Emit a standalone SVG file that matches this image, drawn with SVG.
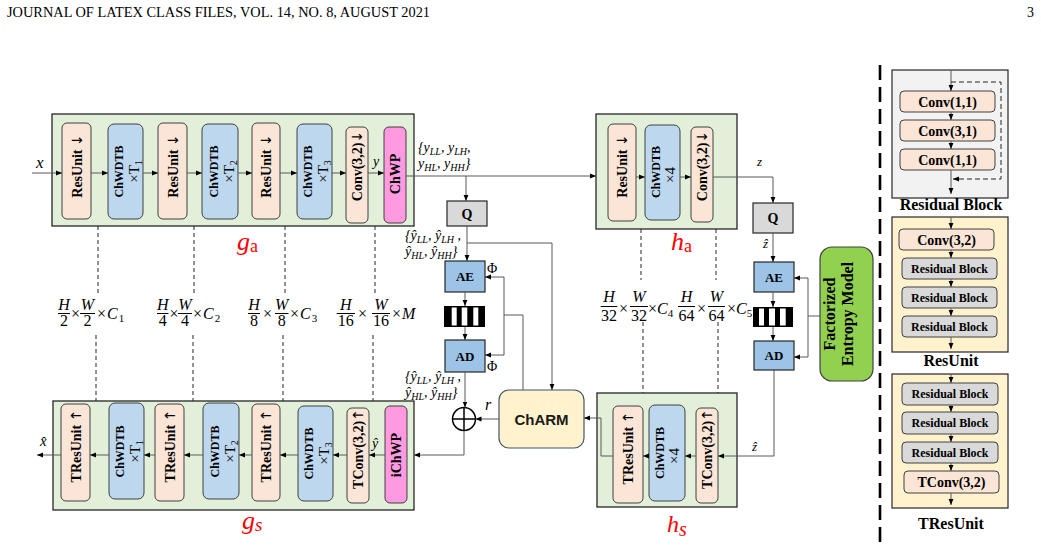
<svg xmlns="http://www.w3.org/2000/svg" width="1041" height="547" viewBox="0 0 1041 547">
<style>
.blk{fill:#e2efd9;stroke:#262626;stroke-width:1.3}
.pe{fill:#fbe5d6;stroke:#404040;stroke-width:1}
.bl{fill:#bdd7ee;stroke:#404040;stroke-width:1}
.pk{fill:#ff99e0;stroke:#404040;stroke-width:1}
.ae{fill:#9dc3e6;stroke:#262626;stroke-width:1.2}
.q{fill:#d9d9d9;stroke:#262626;stroke-width:1.2}
.gr{fill:#d9d9d9;stroke:#404040;stroke-width:1}
.ln{fill:none;stroke:#595959;stroke-width:1}
.ar{fill:none;stroke:#595959;stroke-width:1;marker-end:url(#ah)}
.ds{fill:none;stroke:#262626;stroke-width:1;stroke-dasharray:4 3}
.tb{font-family:"Liberation Serif",serif;font-weight:bold;fill:#000}
.tr{font-family:"Liberation Serif",serif;fill:#000}
.mi{font-family:"Liberation Serif",serif;font-style:italic;fill:#000}
.fr{stroke:#000;stroke-width:1}
.red{font-family:"Liberation Serif",serif;font-style:italic;fill:#ff0000}
.arw{font-family:"DejaVu Sans",sans-serif;font-weight:normal}
</style>
<defs>
<marker id="ah" viewBox="0 0 6 6" refX="6" refY="3" markerWidth="6" markerHeight="6" markerUnits="userSpaceOnUse" orient="auto"><path d="M0,0.6 L6,3 L0,5.4z" fill="#000"/></marker>
</defs>
<rect width="1041" height="547" fill="#fff"/>
<text class="tr" x="7" y="17" font-size="14" textLength="423" lengthAdjust="spacingAndGlyphs">JOURNAL OF LATEX CLASS FILES, VOL. 14, NO. 8, AUGUST 2021</text>
<text class="tr" x="1027" y="17" font-size="14">3</text>

<g id="ga">
<rect class="blk" x="52" y="114" width="362" height="112"/>
<rect class="pe" x="62" y="123" width="29" height="96" rx="5"/>
<text class="tb" font-size="14" text-anchor="middle" transform="translate(81.5,166) rotate(-90)">ResUnit <tspan class="arw">↓</tspan></text>
<rect class="bl" x="108" y="124" width="35" height="95" rx="6"/>
<text class="tb" font-size="12" text-anchor="middle" transform="translate(123,171.5) rotate(-90)">ChWDTB</text>
<text class="tr" font-size="15" text-anchor="middle" transform="translate(139,171.5) rotate(-90)">×T<tspan font-size="10" dy="3">1</tspan></text>
<rect class="pe" x="158" y="123" width="29" height="96" rx="5"/>
<text class="tb" font-size="14" text-anchor="middle" transform="translate(177.5,166) rotate(-90)">ResUnit <tspan class="arw">↓</tspan></text>
<rect class="bl" x="202" y="124" width="36" height="95" rx="6"/>
<text class="tb" font-size="12" text-anchor="middle" transform="translate(217.5,171.5) rotate(-90)">ChWDTB</text>
<text class="tr" font-size="15" text-anchor="middle" transform="translate(233.5,171.5) rotate(-90)">×T<tspan font-size="10" dy="3">2</tspan></text>
<rect class="pe" x="252" y="123" width="28" height="96" rx="5"/>
<text class="tb" font-size="14" text-anchor="middle" transform="translate(271,166) rotate(-90)">ResUnit <tspan class="arw">↓</tspan></text>
<rect class="bl" x="297" y="124" width="35" height="95" rx="6"/>
<text class="tb" font-size="12" text-anchor="middle" transform="translate(312,171.5) rotate(-90)">ChWDTB</text>
<text class="tr" font-size="15" text-anchor="middle" transform="translate(328,171.5) rotate(-90)">×T<tspan font-size="10" dy="3">3</tspan></text>
<rect class="pe" x="346" y="127" width="22" height="96" rx="5"/>
<text class="tb" font-size="14" text-anchor="middle" transform="translate(362,166) rotate(-90)">Conv(3,2)<tspan class="arw">↓</tspan></text>
<rect class="pk" x="384" y="127" width="22" height="96" rx="5"/>
<text class="tb" font-size="14" text-anchor="middle" transform="translate(400,174) rotate(-90)">ChWP</text>
</g>

<g id="ha">
<rect class="blk" x="596" y="114" width="141" height="115"/>
<rect class="pe" x="608" y="124" width="28" height="97" rx="5"/>
<text class="tb" font-size="14" text-anchor="middle" transform="translate(627,166) rotate(-90)">ResUnit <tspan class="arw">↓</tspan></text>
<rect class="bl" x="645" y="125" width="35" height="95" rx="6"/>
<text class="tb" font-size="12" text-anchor="middle" transform="translate(660,172) rotate(-90)">ChWDTB</text>
<text class="tr" font-size="15" text-anchor="middle" transform="translate(675,175) rotate(-90)">×4</text>
<rect class="pe" x="691" y="127" width="22" height="95" rx="5"/>
<text class="tb" font-size="14" text-anchor="middle" transform="translate(707,166) rotate(-90)">Conv(3,2)<tspan class="arw">↓</tspan></text>
</g>

<g id="gs">
<rect class="blk" x="53" y="401" width="361" height="109"/>
<rect class="pe" x="61" y="404" width="29" height="97" rx="5"/>
<text class="tb" font-size="14" text-anchor="middle" transform="translate(80.5,446) rotate(-90)">TResUnit <tspan class="arw">↑</tspan></text>
<rect class="bl" x="109" y="403" width="35" height="96" rx="6"/>
<text class="tb" font-size="12" text-anchor="middle" transform="translate(124,451.5) rotate(-90)">ChWDTB</text>
<text class="tr" font-size="15" text-anchor="middle" transform="translate(140,451.5) rotate(-90)">×T<tspan font-size="10" dy="3">1</tspan></text>
<rect class="pe" x="155" y="404" width="29" height="97" rx="5"/>
<text class="tb" font-size="14" text-anchor="middle" transform="translate(174.5,446) rotate(-90)">TResUnit <tspan class="arw">↑</tspan></text>
<rect class="bl" x="203" y="403" width="36" height="96" rx="6"/>
<text class="tb" font-size="12" text-anchor="middle" transform="translate(218.5,451.5) rotate(-90)">ChWDTB</text>
<text class="tr" font-size="15" text-anchor="middle" transform="translate(234.5,451.5) rotate(-90)">×T<tspan font-size="10" dy="3">2</tspan></text>
<rect class="pe" x="252" y="404" width="28" height="97" rx="5"/>
<text class="tb" font-size="14" text-anchor="middle" transform="translate(271,446) rotate(-90)">TResUnit <tspan class="arw">↑</tspan></text>
<rect class="bl" x="298" y="406" width="35" height="95" rx="6"/>
<text class="tb" font-size="12" text-anchor="middle" transform="translate(313,453.5) rotate(-90)">ChWDTB</text>
<text class="tr" font-size="15" text-anchor="middle" transform="translate(329,453.5) rotate(-90)">×T<tspan font-size="10" dy="3">3</tspan></text>
<rect class="pe" x="347" y="408" width="22" height="95" rx="5"/>
<text class="tb" font-size="14" text-anchor="middle" transform="translate(363,449) rotate(-90)">TConv(3,2)<tspan class="arw">↑</tspan></text>
<rect class="pk" x="385" y="406" width="22" height="97" rx="5"/>
<text class="tb" font-size="14" text-anchor="middle" transform="translate(401,455) rotate(-90)">iChWP</text>
</g>

<g id="hs">
<rect class="blk" x="597" y="393" width="140" height="114"/>
<rect class="pe" x="613" y="406" width="30" height="97" rx="5"/>
<text class="tb" font-size="14" text-anchor="middle" transform="translate(633,448) rotate(-90)">TResUnit <tspan class="arw">↑</tspan></text>
<rect class="bl" x="649" y="405" width="36" height="96" rx="6"/>
<text class="tb" font-size="12" text-anchor="middle" transform="translate(664,453) rotate(-90)">ChWDTB</text>
<text class="tr" font-size="15" text-anchor="middle" transform="translate(679,456) rotate(-90)">×4</text>
<rect class="pe" x="696" y="408" width="22" height="95" rx="5"/>
<text class="tb" font-size="14" text-anchor="middle" transform="translate(712,449) rotate(-90)">TConv(3,2)<tspan class="arw">↑</tspan></text>
</g>

<g id="q1"><rect class="q" x="447" y="201" width="40" height="25"/><text class="tb" font-size="14" x="467" y="218.5" text-anchor="middle">Q</text></g>
<g id="ae1"><rect class="ae" x="445" y="261" width="40" height="31"/><text class="tb" font-size="13" x="465" y="281" text-anchor="middle">AE</text></g>
<g id="bc1"><rect x="444" y="306" width="41" height="21" fill="#000"/><rect x="451.7" y="307.5" width="5" height="18" fill="#fff"/><rect x="461.7" y="307.5" width="5.6" height="18" fill="#fff"/><rect x="473.3" y="307.5" width="5" height="18" fill="#fff"/></g>
<g id="ad1"><rect class="ae" x="445" y="340" width="40" height="32"/><text class="tb" font-size="13" x="465" y="360.5" text-anchor="middle">AD</text></g>

<g id="q2"><rect class="q" x="753" y="203" width="40" height="30"/><text class="tb" font-size="14" x="773" y="223" text-anchor="middle">Q</text></g>
<g id="ae2"><rect class="ae" x="754" y="262" width="40" height="30"/><text class="tb" font-size="13" x="774" y="281.5" text-anchor="middle">AE</text></g>
<g id="bc2"><rect x="753" y="307" width="40" height="20" fill="#000"/><rect x="759" y="308.5" width="5" height="17" fill="#fff"/><rect x="769" y="308.5" width="6" height="17" fill="#fff"/><rect x="780" y="308.5" width="5.7" height="17" fill="#fff"/></g>
<g id="ad2"><rect class="ae" x="754" y="341" width="40" height="29"/><text class="tb" font-size="13" x="774" y="360" text-anchor="middle">AD</text></g>

<g id="fem"><rect x="820" y="247" width="53" height="134" rx="12" fill="#92d050" stroke="#404040" stroke-width="1.2"/>
<text class="tb" font-size="16" text-anchor="middle" transform="translate(835,314) rotate(-90)">Factorized</text>
<text class="tb" font-size="16" text-anchor="middle" transform="translate(853,314) rotate(-90)">Entropy Model</text></g>

<g id="charm"><rect x="499" y="390" width="85" height="58" rx="10" fill="#fff2cc" stroke="#44546a" stroke-width="1.2"/>
<text x="541.5" y="424.5" text-anchor="middle" font-family="Liberation Sans, Arial, sans-serif" font-weight="bold" font-size="15" fill="#1a1a1a">ChARM</text></g>

<g id="plus"><circle cx="464" cy="419" r="11.5" fill="#fff" stroke="#000" stroke-width="1.5"/><path d="M452.5,419 H475.5 M464,407.5 V430.5" stroke="#000" stroke-width="1.5"/></g>

<g id="connectors">
<path class="ar" d="M32,173 H62"/>
<path class="ar" d="M91,173 H108"/>
<path class="ar" d="M143,173 H158"/>
<path class="ar" d="M187,173 H202"/>
<path class="ar" d="M238,173 H252"/>
<path class="ar" d="M280,173 H297"/>
<path class="ar" d="M332,173 H346"/>
<path class="ar" d="M368,173 H384"/>
<path class="ar" d="M406,176 H596"/>
<path class="ar" d="M466,176 V201"/>
<path class="ar" d="M467,226 V261"/>
<path class="ar" d="M467,243 H552 V390"/>
<path class="ar" d="M465,292 V306"/>
<path class="ar" d="M465,327 V340"/>
<path class="ln" d="M523,390 V315 H504 M504,277 V355"/>
<path class="ar" d="M504,277 H485"/>
<path class="ar" d="M504,355 H485"/>
<path class="ar" d="M465,372 V407.5"/>
<path class="ar" d="M499,419 H475.5"/>
<path class="ar" d="M464,430.5 V455 H414"/>
<path class="ar" d="M385,455 H369"/>
<path class="ar" d="M347,455 H333"/>
<path class="ar" d="M298,455 H280"/>
<path class="ar" d="M252,455 H239"/>
<path class="ar" d="M203,455 H184"/>
<path class="ar" d="M155,455 H144"/>
<path class="ar" d="M109,455 H90"/>
<path class="ar" d="M61,455 H37"/>
<path class="ar" d="M636,177 H645"/>
<path class="ar" d="M680,177 H691"/>
<path class="ar" d="M713,177 H773 V203"/>
<path class="ar" d="M773,233 V262"/>
<path class="ar" d="M773,292 V307"/>
<path class="ar" d="M773,327 V341"/>
<path class="ln" d="M820,316 H808 M808,278 V357"/>
<path class="ar" d="M808,278 H794"/>
<path class="ar" d="M808,357 H794"/>
<path class="ar" d="M774,370 V456 H718"/>
<path class="ar" d="M696,456 H685"/>
<path class="ar" d="M649,456 H643"/>
<path class="ar" d="M613,456 H601 V418 H584"/>
<path class="ds" d="M98,226 V293 M96,335 V401 M194,226 V293 M193,335 V401 M285,226 V293 M283,335 V401 M375,226 V293 M373,335 V401"/>
<path class="ds" d="M641,229 V280 M643,322 V393 M716,229 V280 M718,322 V393"/>
</g>

<g id="labels">
<text class="mi" x="36" y="168" font-size="17">x</text>
<text class="mi" x="373" y="166" font-size="14">y</text>
<text class="mi" x="40" y="446" font-size="15">x̂</text>
<text class="mi" x="372" y="448" font-size="14">ŷ</text>
<text class="mi" x="485" y="410" font-size="16">r</text>
<text class="tr" x="487" y="273" font-size="14">Φ</text>
<text class="tr" x="487" y="371" font-size="14">Φ</text>
<text class="mi" x="757" y="166" font-size="13">z</text>
<text class="mi" x="763" y="248" font-size="13">ẑ</text>
<text class="mi" x="752" y="451" font-size="13">ẑ</text>
<text class="mi" x="418" y="152" font-size="14">{y<tspan font-size="10" dy="3">LL</tspan><tspan dy="-3">, y</tspan><tspan font-size="10" dy="3">LH</tspan><tspan dy="-3">,</tspan></text>
<text class="mi" x="418" y="168" font-size="14">y<tspan font-size="10" dy="3">HL</tspan><tspan dy="-3">, y</tspan><tspan font-size="10" dy="3">HH</tspan><tspan dy="-3">}</tspan></text>
<text class="mi" x="405" y="240" font-size="14">{ŷ<tspan font-size="10" dy="3">LL</tspan><tspan dy="-3">, ŷ</tspan><tspan font-size="10" dy="3">LH</tspan><tspan dy="-3"> ,</tspan></text>
<text class="mi" x="405" y="256" font-size="14">ŷ<tspan font-size="10" dy="3">HL</tspan><tspan dy="-3">, ŷ</tspan><tspan font-size="10" dy="3">HH</tspan><tspan dy="-3">}</tspan></text>
<text class="mi" x="405" y="381" font-size="14">{ŷ<tspan font-size="10" dy="3">LL</tspan><tspan dy="-3">, ŷ</tspan><tspan font-size="10" dy="3">LH</tspan><tspan dy="-3"> ,</tspan></text>
<text class="mi" x="405" y="397" font-size="14">ŷ<tspan font-size="10" dy="3">HL</tspan><tspan dy="-3">, ŷ</tspan><tspan font-size="10" dy="3">HH</tspan><tspan dy="-3">}</tspan></text>
<text class="red" x="237" y="250" font-size="26">g<tspan font-style="normal" font-size="18" dy="2">a</tspan></text>
<text class="red" x="242" y="529" font-size="26">g<tspan font-size="19" dy="2">s</tspan></text>
<text class="red" x="671" y="250" font-size="26">h<tspan font-style="normal" font-size="18" dy="2">a</tspan></text>
<text class="red" x="667" y="532" font-size="24">h<tspan font-size="20" dy="4">s</tspan></text>
</g>

<g id="dims" font-size="16">
<text class="mi" x="64" y="310" text-anchor="middle">H</text><line class="fr" x1="58" y1="313.5" x2="70" y2="313.5"/><text class="tr" x="64" y="326" text-anchor="middle">2</text>
<text class="tr" x="71" y="319">×</text>
<text class="mi" x="87.5" y="310" text-anchor="middle">W</text><line class="fr" x1="80" y1="313.5" x2="95" y2="313.5"/><text class="tr" x="87.5" y="326" text-anchor="middle">2</text>
<text class="tr" x="97" y="319">×<tspan font-style="italic" dx="1">C</tspan><tspan font-size="11" dy="3" dx="1">1</tspan></text>

<text class="mi" x="162.8" y="310" text-anchor="middle">H</text><line class="fr" x1="157" y1="313.5" x2="168.5" y2="313.5"/><text class="tr" x="162.8" y="326" text-anchor="middle">4</text>
<text class="tr" x="169.5" y="319">×</text>
<text class="mi" x="185" y="310" text-anchor="middle">W</text><line class="fr" x1="178" y1="313.5" x2="192" y2="313.5"/><text class="tr" x="185" y="326" text-anchor="middle">4</text>
<text class="tr" x="193" y="319">×<tspan font-style="italic" dx="1">C</tspan><tspan font-size="11" dy="3" dx="1">2</tspan></text>

<text class="mi" x="254" y="310" text-anchor="middle">H</text><line class="fr" x1="248" y1="313.5" x2="260" y2="313.5"/><text class="tr" x="254" y="326" text-anchor="middle">8</text>
<text class="tr" x="263" y="319">×</text>
<text class="mi" x="281.7" y="310" text-anchor="middle">W</text><line class="fr" x1="275" y1="313.5" x2="288.5" y2="313.5"/><text class="tr" x="281.7" y="326" text-anchor="middle">8</text>
<text class="tr" x="290" y="319">×<tspan font-style="italic" dx="1">C</tspan><tspan font-size="11" dy="3" dx="1">3</tspan></text>

<text class="mi" x="345.8" y="310" text-anchor="middle">H</text><line class="fr" x1="336.7" y1="313.5" x2="355" y2="313.5"/><text class="tr" x="345.8" y="326" text-anchor="middle">16</text>
<text class="tr" x="358" y="319">×</text>
<text class="mi" x="381" y="310" text-anchor="middle">W</text><line class="fr" x1="372" y1="313.5" x2="390" y2="313.5"/><text class="tr" x="381" y="326" text-anchor="middle">16</text>
<text class="tr" x="392" y="319">×<tspan font-style="italic" dx="1">M</tspan></text>

<text class="mi" x="609" y="302" text-anchor="middle">H</text><line class="fr" x1="600.7" y1="306.5" x2="617.3" y2="306.5"/><text class="tr" x="609" y="321" text-anchor="middle">32</text>
<text class="tr" x="619" y="314">×</text>
<text class="mi" x="639" y="302" text-anchor="middle">W</text><line class="fr" x1="630" y1="306.5" x2="648" y2="306.5"/><text class="tr" x="639" y="321" text-anchor="middle">32</text>
<text class="tr" x="648" y="314">×<tspan font-style="italic">C</tspan><tspan font-size="11" dy="3">4</tspan></text>

<text class="mi" x="686.5" y="302" text-anchor="middle">H</text><line class="fr" x1="678" y1="306.5" x2="695" y2="306.5"/><text class="tr" x="686.5" y="321" text-anchor="middle">64</text>
<text class="tr" x="697" y="314">×</text>
<text class="mi" x="716.5" y="302" text-anchor="middle">W</text><line class="fr" x1="708" y1="306.5" x2="725" y2="306.5"/><text class="tr" x="716.5" y="321" text-anchor="middle">64</text>
<text class="tr" x="727" y="314">×<tspan font-style="italic">C</tspan><tspan font-size="11" dy="3">5</tspan></text>
</g>

<path d="M880,65 V547" stroke="#000" stroke-width="2.6" stroke-dasharray="15 7" fill="none"/>

<g id="residual-block">
<rect x="892" y="70" width="116" height="128" fill="#f2f2f2" stroke="#262626" stroke-width="1.2"/>
<rect class="pe" x="900" y="91" width="95" height="21" rx="4"/><text class="tb" font-size="14" x="947.5" y="106.5" text-anchor="middle">Conv(1,1)</text>
<rect class="pe" x="900" y="120" width="95" height="21" rx="4"/><text class="tb" font-size="14" x="947.5" y="135.5" text-anchor="middle">Conv(3,1)</text>
<rect class="pe" x="900" y="149" width="95" height="21" rx="4"/><text class="tb" font-size="14" x="947.5" y="164.5" text-anchor="middle">Conv(1,1)</text>
<path class="ar" d="M951,70 V91"/><path class="ar" d="M951,112 V120"/><path class="ar" d="M951,141 V149"/><path class="ar" d="M951,170 V194"/>
<path d="M951,82 H1001 V179 H953" fill="none" stroke="#262626" stroke-width="1" stroke-dasharray="5 3" marker-end="url(#ah)"/>
<text class="tb" font-size="16" x="951" y="210" text-anchor="middle">Residual Block</text>
</g>

<g id="resunit">
<rect x="892" y="217" width="116" height="135" fill="#fff2cc" stroke="#262626" stroke-width="1.2"/>
<rect class="pe" x="899" y="229" width="95" height="21" rx="4"/><text class="tb" font-size="14" x="946.5" y="244.5" text-anchor="middle">Conv(3,2)</text>
<rect class="gr" x="902" y="258" width="95" height="21" rx="4"/><text class="tb" font-size="12" x="949.5" y="272.5" text-anchor="middle">Residual Block</text>
<rect class="gr" x="902" y="287" width="95" height="21" rx="4"/><text class="tb" font-size="12" x="949.5" y="301.5" text-anchor="middle">Residual Block</text>
<rect class="gr" x="902" y="316" width="95" height="21" rx="4"/><text class="tb" font-size="12" x="949.5" y="330.5" text-anchor="middle">Residual Block</text>
<path class="ar" d="M951,217 V229"/><path class="ar" d="M951,250 V258"/><path class="ar" d="M951,279 V287"/><path class="ar" d="M951,308 V316"/><path class="ar" d="M951,337 V349"/>
<text class="tb" font-size="16" x="951" y="366" text-anchor="middle">ResUnit</text>
</g>

<g id="tresunit">
<rect x="892" y="374" width="116" height="134" fill="#fff2cc" stroke="#262626" stroke-width="1.2"/>
<rect class="gr" x="902" y="383" width="96" height="22" rx="4"/><text class="tb" font-size="12" x="950" y="398" text-anchor="middle">Residual Block</text>
<rect class="gr" x="902" y="412" width="96" height="22" rx="4"/><text class="tb" font-size="12" x="950" y="427" text-anchor="middle">Residual Block</text>
<rect class="gr" x="902" y="442" width="96" height="21" rx="4"/><text class="tb" font-size="12" x="950" y="456.5" text-anchor="middle">Residual Block</text>
<rect class="pe" x="904" y="471" width="95" height="22" rx="4"/><text class="tb" font-size="14" x="951.5" y="487" text-anchor="middle">TConv(3,2)</text>
<path class="ar" d="M951,374 V383"/><path class="ar" d="M951,405 V412"/><path class="ar" d="M951,434 V442"/><path class="ar" d="M951,463 V471"/><path class="ar" d="M951,493 V505"/>
<text class="tb" font-size="16" x="951" y="529" text-anchor="middle">TResUnit</text>
</g>
</svg>
